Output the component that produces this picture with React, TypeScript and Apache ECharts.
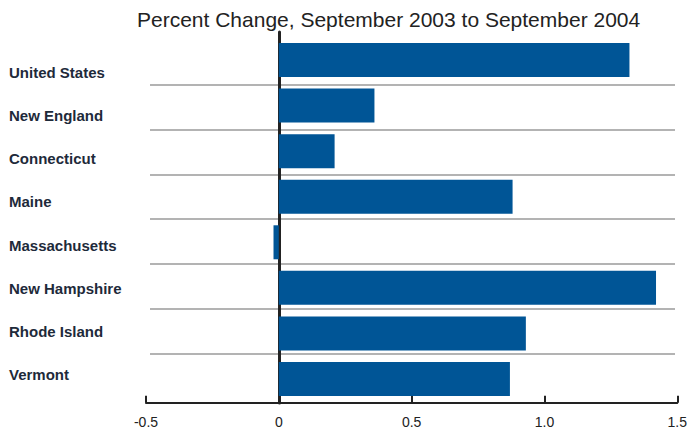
import React, { useEffect, useRef } from "react";
import * as echarts from "echarts";

const categories = [
  "United States",
  "New England",
  "Connecticut",
  "Maine",
  "Massachusetts",
  "New Hampshire",
  "Rhode Island",
  "Vermont",
];
const percentChange = [1.32, 0.36, 0.21, 0.88, -0.02, 1.42, 0.93, 0.87];
const xTicks = { min: -0.5, max: 1.5, interval: 0.5 };
const titleText = "Percent Change, September 2003 to September 2004";

const FONT = "'Liberation Sans', Arial, sans-serif";

export default function App() {
  const ref = useRef<HTMLDivElement>(null);
  useEffect(() => {
    if (!ref.current) return;
    const chart = echarts.init(ref.current, undefined, { renderer: "svg" });
    const hiddenAxisBase = {
      axisLine: { show: false },
      axisTick: { show: false },
      axisLabel: { show: false },
      splitLine: { show: false },
    };
    chart.setOption({
      animation: false,
      backgroundColor: "#ffffff",
      title: {
        text: titleText,
        left: 132,
        top: 4,
        textStyle: { fontFamily: FONT, fontSize: 21, fontWeight: "normal", color: "#222222" },
      },
      grid: [
        { left: 146, right: 10, top: 37.2, bottom: 31.2 }, // bars
        { left: 150, right: 15, top: 39.4, bottom: 34 }, // separators
        { left: 150, right: 14, top: 50.4, bottom: 36.4 }, // category labels
        { left: 146, right: 10, top: 32, bottom: 30 }, // zero line
      ],
      xAxis: [
        {
          gridIndex: 0,
          type: "value",
          min: xTicks.min,
          max: xTicks.max,
          interval: xTicks.interval,
          offset: 1,
          axisLine: { show: true, onZero: false, lineStyle: { color: "#222222", width: 2 } },
          axisTick: { show: true, inside: true, length: 7, lineStyle: { color: "#222222", width: 2 } },
          axisLabel: {
            margin: 12,
            fontFamily: FONT,
            fontSize: 14,
            color: "#222222",
            formatter: (v: number) => (v === 0 ? "0" : v.toFixed(1)),
          },
          splitLine: { show: false },
        },
        { gridIndex: 1, type: "value", min: xTicks.min, max: xTicks.max, ...hiddenAxisBase },
        { gridIndex: 2, type: "value", min: xTicks.min, max: xTicks.max, ...hiddenAxisBase },
        { gridIndex: 3, type: "value", min: xTicks.min, max: xTicks.max, ...hiddenAxisBase },
      ],
      yAxis: [
        { gridIndex: 0, type: "category", data: categories, inverse: true, ...hiddenAxisBase },
        {
          gridIndex: 1,
          type: "category",
          data: categories,
          inverse: true,
          ...hiddenAxisBase,
          splitLine: {
            show: true,
            showMinLine: false,
            showMaxLine: false,
            lineStyle: { color: "#9a9a9a", width: 1.5 },
          },
        },
        {
          gridIndex: 2,
          type: "category",
          data: categories,
          inverse: true,
          ...hiddenAxisBase,
          axisLabel: {
            show: true,
            align: "left",
            margin: 141,
            fontFamily: FONT,
            fontSize: 15,
            fontWeight: "bold",
            color: "#1e2a3a",
          },
        },
        {
          gridIndex: 3,
          type: "category",
          data: categories,
          inverse: true,
          ...hiddenAxisBase,
          axisLine: { show: true, onZero: true, lineStyle: { color: "#222222", width: 3 } },
        },
      ],
      series: [
        {
          type: "bar",
          xAxisIndex: 0,
          yAxisIndex: 0,
          data: percentChange,
          barWidth: 34,
          itemStyle: { color: "#005596" },
          z: 1,
        },
      ],
    });
    return () => chart.dispose();
  }, []);
  return <div ref={ref} style={{ width: 690, height: 433, position: "absolute", left: 0, top: 0 }} />;
}
